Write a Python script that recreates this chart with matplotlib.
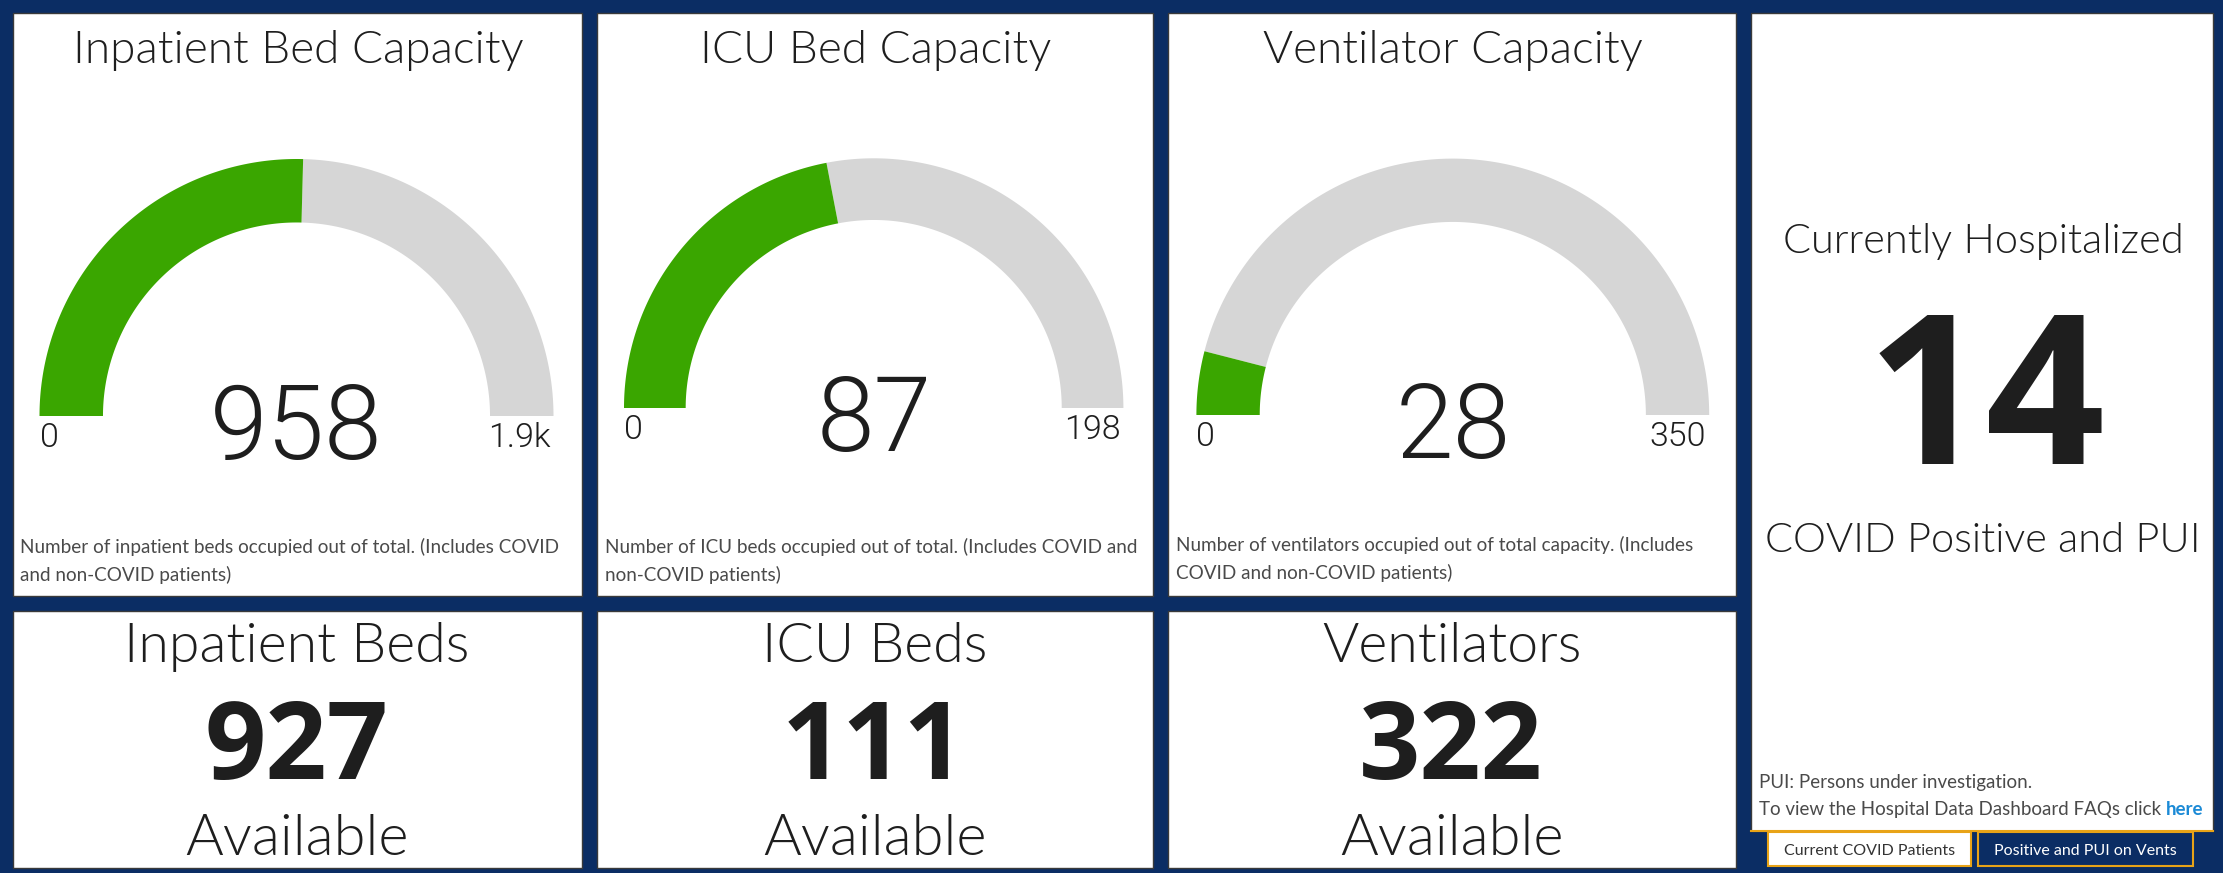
import numpy as np
import matplotlib
matplotlib.use("Agg")
import matplotlib.pyplot as plt
from matplotlib.patches import Rectangle, Polygon

# ---------------- data ----------------
gauge_titles = ["Inpatient Bed Capacity", "ICU Bed Capacity", "Ventilator Capacity"]
gauge_values = [958, 87, 28]
gauge_max = [1885, 198, 350]
gauge_min_labels = ["0", "0", "0"]
gauge_max_labels = ["1.9k", "198", "350"]
gauge_notes = [
    ["Number of inpatient beds occupied out of total. (Includes COVID", "and non-COVID patients)"],
    ["Number of ICU beds occupied out of total. (Includes COVID and", "non-COVID patients)"],
    ["Number of ventilators occupied out of total capacity. (Includes", "COVID and non-COVID patients)"],
]
avail_titles = ["Inpatient Beds", "ICU Beds", "Ventilators"]
avail_values = [927, 111, 322]
avail_label = "Available"
hosp_title = "Currently Hospitalized"
hosp_value = 14
hosp_sub = "COVID Positive and PUI"
footer_line1 = "PUI: Persons under investigation."
footer_line2 = "To view the Hospital Data Dashboard FAQs click "
footer_link = "here"
tab_labels = ["Current COVID Patients", "Positive and PUI on Vents"]

# ---------------- style ----------------
NAVY = "#0b2d64"
GREEN = "#3aa600"
GREY = "#d6d6d6"
TXT = "#1e1e1e"
NOTE = "#4a4a4a"
GOLD = "#e8a317"

W, H = 2223, 873
fig = plt.figure(figsize=(W / 100, H / 100), dpi=100, facecolor=NAVY)
ax = fig.add_axes([0, 0, 1, 1])
ax.set_xlim(0, W)
ax.set_ylim(H, 0)
ax.axis("off")
R = fig.canvas.get_renderer()

LATO = ["Lato", "DejaVu Sans"]
ROBO = ["Roboto", "DejaVu Sans"]
BOLD = ["Open Sans", "DejaVu Sans"]
BW = 700


def fit_size(s, width, **kw):
    t = ax.text(0, 0, s, fontsize=20, **kw)
    w = t.get_window_extent(renderer=R).width
    t.remove()
    return 20 * width / w


def panel(x0, y0, x1, y1):
    ax.add_patch(Rectangle((x0, y0), x1 - x0, y1 - y0, facecolor="white",
                           edgecolor="#3a3a3a", linewidth=1.0, zorder=1))


def arc_poly(cx, cy, ro, ri, a0, a1, n=240):
    t = np.linspace(a0, a1, n)
    xo, yo = cx + ro * np.cos(t), cy - ro * np.sin(t)
    tr = t[::-1]
    xi, yi = cx + ri * np.cos(tr), cy - ri * np.sin(tr)
    return np.column_stack([np.r_[xo, xi], np.r_[yo, yi]])


# layout (pixels)
top_panels = [(12.5, 581.5), (597, 1153), (1168, 1736)]
TOP_Y0, TOP_Y1 = 13, 596
gauge_geo = [(296.5, 416, 257.0), (873.7, 408, 249.7), (1452.8, 415, 256.4)]
note_y = [(553.5, 581.5), (553.5, 581.5), (551.5, 578.5)]

title_fs = fit_size(gauge_titles[0], 451, family=LATO, fontweight=300)
value_fs = fit_size(f"{gauge_values[0]}", 172, family=ROBO, fontweight=300)
note_fs = fit_size(gauge_notes[0][0], 540, family=LATO)

for i in range(3):
    x0, x1 = top_panels[i]
    panel(x0, TOP_Y0, x1, TOP_Y1)
    cx, cy, ro = gauge_geo[i]
    ri = ro * 0.753
    frac = gauge_values[i] / gauge_max[i]
    a_split = np.pi * (1 - frac)
    ax.add_patch(Polygon(arc_poly(cx, cy, ro, ri, 0, a_split), closed=True,
                         facecolor=GREY, edgecolor="none", zorder=2))
    ax.add_patch(Polygon(arc_poly(cx, cy, ro, ri, a_split, np.pi), closed=True,
                         facecolor=GREEN, edgecolor="none", zorder=2))
    ax.text((x0 + x1) / 2 + 1, 63, gauge_titles[i], ha="center", va="baseline",
            fontsize=title_fs, family=LATO, fontweight=300, color=TXT, zorder=3)
    ax.text(cx, cy + 43, f"{gauge_values[i]}", ha="center", va="baseline",
            fontsize=value_fs, family=ROBO, fontweight=300, color=TXT, zorder=3)
    ax.text(cx - ro, cy + 31, gauge_min_labels[i], ha="left", va="baseline",
            fontsize=24.5, family=ROBO, fontweight=300, color=TXT, zorder=3)
    ax.text(cx + ro - 3, cy + 31, gauge_max_labels[i], ha="right", va="baseline",
            fontsize=24.5, family=ROBO, fontweight=300, color=TXT, zorder=3)
    for line, ly in zip(gauge_notes[i], note_y[i]):
        ax.text(x0 + 8, ly, line, ha="left", va="baseline",
                fontsize=note_fs, family=LATO, color=NOTE, zorder=3)

# bottom "available" panels
bottom_panels = [(12.5, 581.5), (597, 1153), (1168, 1735.5)]
bt_fs = fit_size(avail_titles[0], 346, family=LATO, fontweight=300)
bn_fs = fit_size(f"{avail_values[0]}", 184, family=BOLD, fontweight=BW)
av_fs = fit_size(avail_label, 223, family=LATO, fontweight=300)
for i in range(3):
    x0, x1 = bottom_panels[i]
    panel(x0, 611, x1, 868)
    xc = (x0 + x1) / 2
    ax.text(xc, 662.5, avail_titles[i], ha="center", va="baseline",
            fontsize=bt_fs, family=LATO, fontweight=300, color=TXT, zorder=3)
    ax.text(xc - 1, 779, f"{avail_values[i]}", ha="center", va="baseline",
            fontsize=bn_fs, family=BOLD, fontweight=BW, color=TXT, zorder=3)
    ax.text(xc, 855, avail_label, ha="center", va="baseline",
            fontsize=av_fs, family=LATO, fontweight=300, color=TXT, zorder=3)

# right panel
px0, px1 = 1751, 2213
panel(px0, TOP_Y0, px1, 831)
ax.plot([px0, px1], [831, 831], color=GOLD, lw=1.5, zorder=4)
pxc = (px0 + px1) / 2
hs_fs = fit_size(hosp_title, 402, family=LATO, fontweight=300)
ax.text(pxc + 1, 253, hosp_title, ha="center", va="baseline",
        fontsize=hs_fs, family=LATO, fontweight=300, color=TXT, zorder=3)
big_fs = fit_size(f"{hosp_value}", 238, family=BOLD, fontweight=BW)
ax.text(pxc + 4, 464.5, f"{hosp_value}", ha="center", va="baseline",
        fontsize=big_fs, family=BOLD, fontweight=BW, color=TXT, zorder=3)
ax.text(pxc + 1, 552.5, hosp_sub, ha="center", va="baseline",
        fontsize=hs_fs, family=LATO, fontweight=300, color=TXT, zorder=3)

ft_fs = fit_size(footer_line2 + footer_link, 446, family=LATO)
ax.text(1759, 788, footer_line1, ha="left", va="baseline",
        fontsize=ft_fs, family=LATO, color=NOTE, zorder=3)
t2 = ax.text(1759, 815, footer_line2, ha="left", va="baseline",
             fontsize=ft_fs, family=LATO, color=NOTE, zorder=3)
ax.annotate(footer_link, xycoords=t2, xy=(1, 0), ha="left", va="bottom",
            fontsize=ft_fs, family=LATO, fontweight="bold", color="#1b8ad6", zorder=3)

# tabs
tabs = [(1768, 1971, "white", "#333333"), (1978, 2193, NAVY, "white")]
tab_fs = fit_size(tab_labels[0], 172, family=LATO)
for (tx0, tx1, fc, tc), lab in zip(tabs, tab_labels):
    ax.add_patch(Rectangle((tx0, 832), tx1 - tx0, 34, facecolor=fc,
                           edgecolor=GOLD, linewidth=1.5, zorder=5))
    ax.text((tx0 + tx1) / 2, 855, lab, ha="center", va="baseline",
            fontsize=tab_fs, family=LATO, color=tc, zorder=6)

fig.savefig("out.png", dpi=100, facecolor=NAVY)
